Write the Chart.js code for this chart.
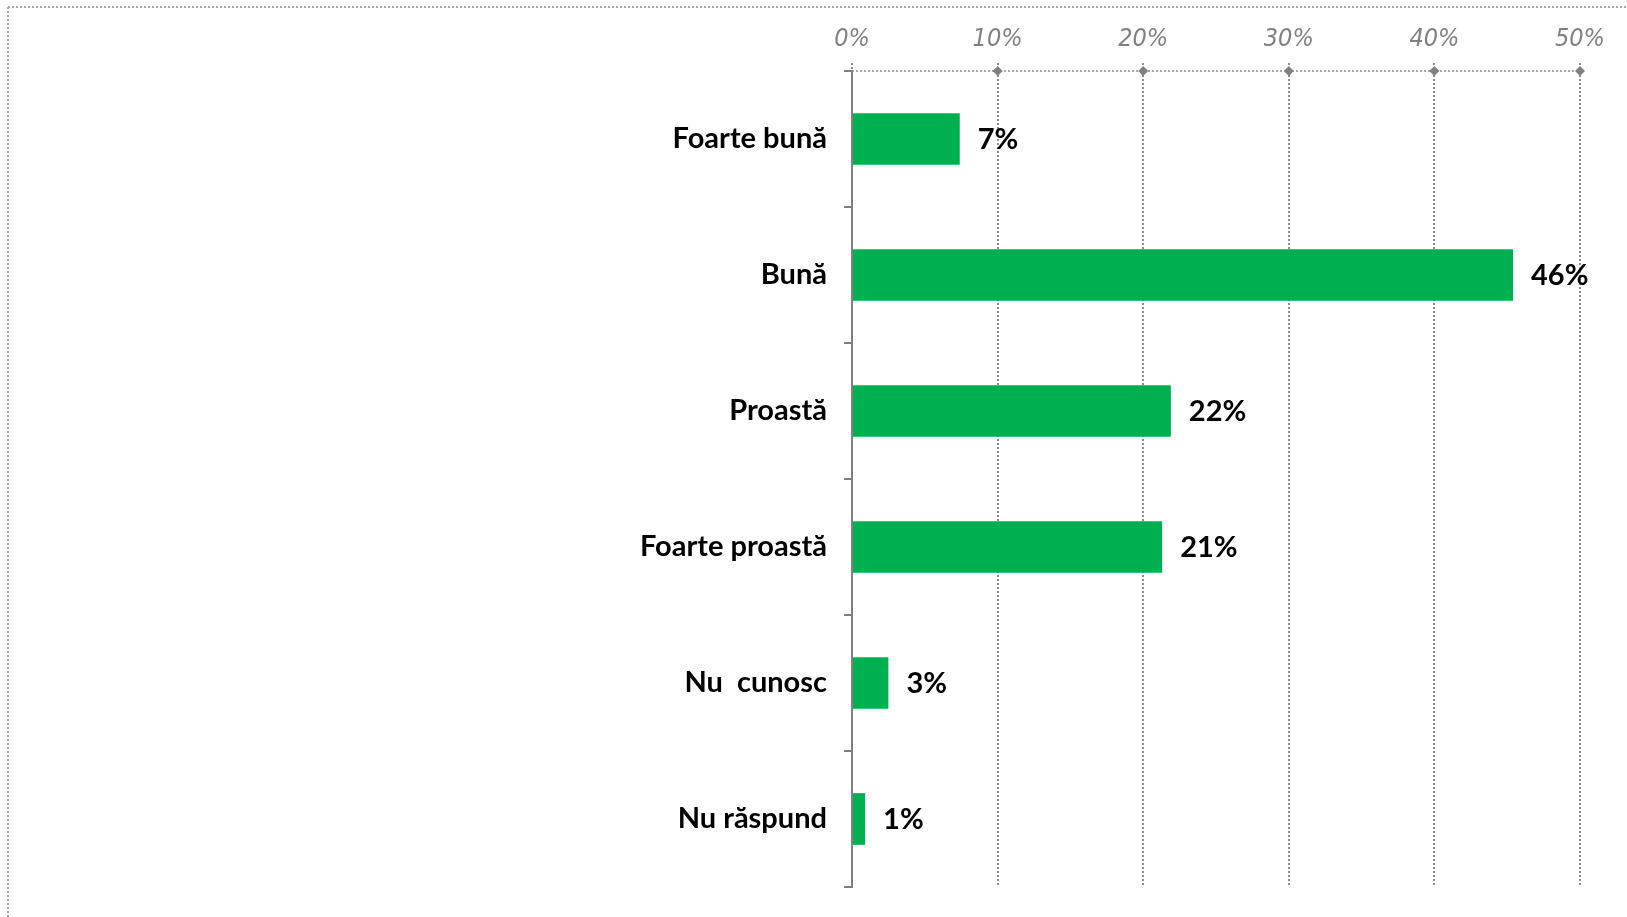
<!DOCTYPE html>
<html>
<head>
<meta charset="utf-8">
<script src="https://cdn.jsdelivr.net/npm/chart.js@4"></script>
<style>
  html, body { margin: 0; padding: 0; background: #ffffff; }
</style>
</head>
<body>
<canvas id="surveyChart" width="1627" height="917"></canvas>
<script>
const categories = ["Foarte bună", "Bună", "Proastă", "Foarte proastă", "Nu  cunosc", "Nu răspund"];
const shares = [7.4, 45.4, 21.9, 21.3, 2.5, 0.9];
const shareLabels = ["7%", "46%", "22%", "21%", "3%", "1%"];
const axisTicks = [0, 10, 20, 30, 40, 50];

const gridGray = "#8c8c8c";
const labelFont = "Lato, 'Noto Sans', sans-serif";

// dotted frame on top/left, dotted top axis line with diamond markers
const decorations = {
    id: "decorations",
    beforeDraw(chart) {
        const ctx = chart.ctx;
        ctx.save();
        ctx.fillStyle = "#ffffff";
        ctx.fillRect(0, 0, chart.width, chart.height);
        ctx.strokeStyle = "#a6a6a6";
        ctx.lineWidth = 2;
        ctx.setLineDash([2, 2]);
        ctx.beginPath();
        ctx.moveTo(8, 7);
        ctx.lineTo(chart.width, 7);
        ctx.moveTo(8, 7);
        ctx.lineTo(8, chart.height);
        ctx.stroke();
        ctx.restore();
    },
    afterDraw(chart) {
        const ctx = chart.ctx;
        const x = chart.scales.x;
        const top = chart.chartArea.top;
        ctx.save();
        ctx.strokeStyle = gridGray;
        ctx.lineWidth = 1.5;
        ctx.setLineDash([2, 2]);
        ctx.beginPath();
        ctx.moveTo(chart.chartArea.left, top);
        ctx.lineTo(chart.chartArea.right, top);
        ctx.stroke();
        ctx.setLineDash([]);
        ctx.fillStyle = "#808080";
        axisTicks.forEach(t => {
            if (t === 0) return;
            const px = x.getPixelForValue(t);
            ctx.beginPath();
            ctx.moveTo(px, top - 5);
            ctx.lineTo(px + 5, top);
            ctx.lineTo(px, top + 5);
            ctx.lineTo(px - 5, top);
            ctx.closePath();
            ctx.fill();
        });
        ctx.restore();
    },
    afterDatasetsDraw(chart) {
        const ctx = chart.ctx;
        const bars = chart.getDatasetMeta(0).data;
        ctx.save();
        ctx.fillStyle = "#000000";
        ctx.font = "bold 29px " + labelFont;
        ctx.textAlign = "left";
        ctx.textBaseline = "middle";
        bars.forEach((bar, i) => {
            ctx.fillText(shareLabels[i], bar.x + 18, bar.y + 1);
        });
        ctx.restore();
    }
};

const ctx = document.getElementById("surveyChart").getContext("2d");

new Chart(ctx, {
    type: "bar",
    data: {
        labels: categories,
        datasets: [{
            data: shares,
            backgroundColor: "#00b050",
            borderWidth: 0,
            barPercentage: 0.38,
            categoryPercentage: 1.0
        }]
    },
    options: {
        indexAxis: "y",
        responsive: false,
        animation: false,
        layout: {
            padding: { left: 0, right: 47, top: 0, bottom: 30 }
        },
        plugins: {
            legend: { display: false },
            tooltip: { enabled: false }
        },
        scales: {
            x: {
                position: "top",
                min: 0,
                max: 50,
                afterFit: scale => { scale.height = 71; },
                ticks: {
                    stepSize: 10,
                    padding: 9,
                    color: "#808080",
                    callback: v => v + "%",
                    font: {
                        family: "'Liberation Sans Narrow', 'DejaVu Sans Condensed', sans-serif",
                        size: 25,
                        style: "italic"
                    }
                },
                grid: {
                    color: c => c.index === 0 ? "rgba(0,0,0,0)" : gridGray,
                    lineWidth: 2,
                    tickColor: gridGray,
                    tickLength: 8,
                    tickBorderDash: [2, 2]
                },
                border: {
                    display: false,
                    dash: [2, 2]
                }
            },
            y: {
                afterFit: scale => {
                    scale.width = 852;
                    scale.paddingTop = 0;
                    scale.paddingBottom = 0;
                },
                ticks: {
                    padding: 17,
                    color: "#000000",
                    font: {
                        family: labelFont,
                        size: 29,
                        weight: "bold"
                    }
                },
                grid: {
                    offset: true,
                    drawOnChartArea: false,
                    color: "#808080",
                    lineWidth: 2,
                    tickLength: 8
                },
                border: {
                    display: true,
                    color: "#808080",
                    width: 2
                }
            }
        }
    },
    plugins: [decorations]
});
</script>
</body>
</html>
